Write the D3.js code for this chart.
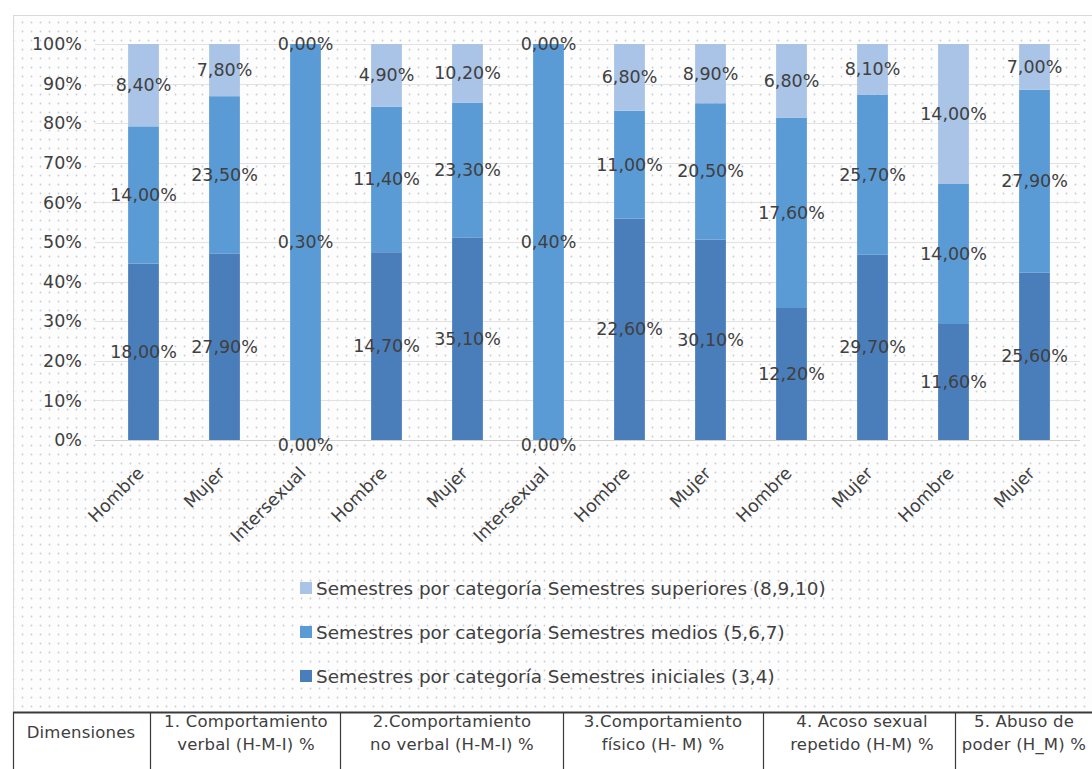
<!DOCTYPE html>
<html>
<head>
<meta charset="utf-8">
<script src="https://cdn.jsdelivr.net/npm/d3@7/dist/d3.min.js"></script>
<style>
  html, body { margin: 0; padding: 0; background: #fff; }
  svg { display: block; }
  text { font-family: "DejaVu Sans", sans-serif; fill: #404040; }
</style>
</head>
<body>
<svg id="chart" width="1092" height="769"></svg>
<script>
// ---- data ----
const categories = ["Hombre", "Mujer", "Intersexual", "Hombre", "Mujer", "Intersexual",
                    "Hombre", "Mujer", "Hombre", "Mujer", "Hombre", "Mujer"];
const iniciales  = [18.00, 27.90, 0.00, 14.70, 35.10, 0.00, 22.60, 30.10, 12.20, 29.70, 11.60, 25.60];
const medios     = [14.00, 23.50, 0.30, 11.40, 23.30, 0.40, 11.00, 20.50, 17.60, 25.70, 14.00, 27.90];
const superiores = [ 8.40,  7.80, 0.00,  4.90, 10.20, 0.00,  6.80,  8.90,  6.80,  8.10, 14.00,  7.00];
const seriesNames = [
  "Semestres por categoría Semestres iniciales (3,4)",
  "Semestres por categoría Semestres medios (5,6,7)",
  "Semestres por categoría Semestres superiores (8,9,10)"
];
const yTicks = [0, 0.1, 0.2, 0.3, 0.4, 0.5, 0.6, 0.7, 0.8, 0.9, 1.0];
const tableCells = [
  ["Dimensiones"],
  ["1. Comportamiento", "verbal (H-M-I) %"],
  ["2.Comportamiento", "no verbal (H-M-I) %"],
  ["3.Comportamiento", "físico (H- M) %"],
  ["4. Acoso sexual", "repetido (H-M) %"],
  ["5. Abuso de", "poder (H_M) %"]
];

const colors = ["#4a7ebb", "#5b9bd5", "#a9c4e6"];
const FONT = '"DejaVu Sans", sans-serif';

const svg = d3.select("#chart");

// dotted background pattern
const defs = svg.append("defs");
const pat = defs.append("pattern").attr("id", "dots")
  .attr("width", 9).attr("height", 9).attr("patternUnits", "userSpaceOnUse");
pat.append("rect").attr("width", 9).attr("height", 9).attr("fill", "#fdfdfe");
pat.append("circle").attr("cx", 4.5).attr("cy", 4.5).attr("r", 0.9).attr("fill", "#c9ccd3");

svg.append("rect").attr("x", 13.5).attr("y", 15.5).attr("width", 1090).attr("height", 697)
  .attr("fill", "url(#dots)").attr("stroke", "#d9d9d9");

const keys = ["iniciales", "medios", "superiores"];
const rows = categories.map((c, i) => ({
  idx: i, cat: c, iniciales: iniciales[i], medios: medios[i], superiores: superiores[i]
}));
const stack = d3.stack().keys(keys).offset(d3.stackOffsetExpand);
const stacked = stack(rows);

const x = d3.scaleBand().domain(d3.range(categories.length))
  .range([103, 1075]).paddingInner(0.62).paddingOuter(0.31);
const y = d3.scaleLinear().domain([0, 1]).range([440, 44]);

// gridlines
svg.append("g").selectAll("line").data(yTicks).join("line")
  .attr("x1", 95).attr("x2", 1080)
  .attr("y1", d => Math.round(y(d)) + 0.5).attr("y2", d => Math.round(y(d)) + 0.5)
  .attr("stroke", d => d === 0 ? "#d0d0d0" : "#e2e2e2").attr("stroke-width", 1);

// y axis labels
const yAxis = d3.axisLeft(y).tickValues(yTicks).tickFormat(d3.format(".0%")).tickSize(0).tickPadding(0);
const ya = svg.append("g").attr("transform", "translate(82,0)").call(yAxis);
ya.select(".domain").remove();
ya.selectAll("text").attr("font-size", 17.5).attr("fill", "#595959").style("font-family", FONT);

// bars
const g = svg.append("g");
stacked.forEach((s, si) => {
  g.append("g").attr("fill", colors[si]).selectAll("rect").data(s).join("rect")
    .attr("x", d => x(d.data.idx))
    .attr("width", x.bandwidth())
    .attr("y", d => y(d[1]))
    .attr("height", d => y(d[0]) - y(d[1]));
});

// data labels
const fmt = v => d3.format(".2f")(v).replace(".", ",") + "%";
stacked.forEach((s, si) => {
  svg.append("g").selectAll("text").data(s).join("text")
    .attr("x", d => x(d.data.idx) + x.bandwidth() / 2)
    .attr("y", d => y((d[0] + d[1]) / 2) + ((d[0] + d[1]) === 0 ? 5 : 0))
    .attr("text-anchor", "middle").attr("dominant-baseline", "central")
    .attr("font-size", 17.5)
    .text(d => fmt(d.data[keys[si]]));
});

// x axis labels
const xAxis = d3.axisBottom(x).tickFormat(i => categories[i]).tickSize(0);
const xa = svg.append("g").attr("transform", "translate(0,440)").call(xAxis);
xa.select(".domain").remove();
xa.selectAll("text")
  .attr("font-size", 17.5).attr("fill", "#595959")
  .style("font-family", FONT)
  .attr("text-anchor", "end")
  .attr("dy", "0.35em").attr("y", 0)
  .attr("transform", "translate(-3,30) rotate(-45)");

// legend
const legendOrder = [2, 1, 0];
const legendY = [588, 632, 676];
const lg = svg.append("g");
legendOrder.forEach((si, k) => {
  lg.append("rect").attr("x", 300).attr("y", legendY[k] - 6).attr("width", 12).attr("height", 12)
    .attr("fill", colors[si]);
  lg.append("text").attr("x", 316).attr("y", legendY[k]).attr("dominant-baseline", "central")
    .attr("font-size", 18.4).attr("fill", "#595959").text(seriesNames[si]);
});

// table
const colX = [13, 150, 340, 563, 763, 955, 1092];
const tg = svg.append("g");
tg.append("rect").attr("x", 13).attr("y", 711).attr("width", 1090).attr("height", 62).attr("fill", "#fff");
tg.append("line").attr("x1", 13).attr("x2", 1092).attr("y1", 712.5).attr("y2", 712.5)
  .attr("stroke", "#3a3a3a").attr("stroke-width", 2);
colX.slice(0, 6).forEach(cx => {
  tg.append("line").attr("x1", cx + 0.5).attr("x2", cx + 0.5).attr("y1", 712).attr("y2", 769)
    .attr("stroke", "#3a3a3a").attr("stroke-width", 1.2);
});
const centers = [81, 246, 452, 663, 862, 1024];
tableCells.forEach((lines, ci) => {
  if (lines.length === 1) {
    tg.append("text").attr("x", centers[ci]).attr("y", 732).attr("text-anchor", "middle")
      .attr("dominant-baseline", "central").attr("font-size", 16.5).attr("letter-spacing", 0.2).text(lines[0]);
  } else {
    lines.forEach((t, li) => {
      tg.append("text").attr("x", centers[ci]).attr("y", 721 + li * 23).attr("text-anchor", "middle")
        .attr("dominant-baseline", "central").attr("font-size", 16.5).attr("letter-spacing", 0.2).text(t);
    });
  }
});
</script>
</body>
</html>
